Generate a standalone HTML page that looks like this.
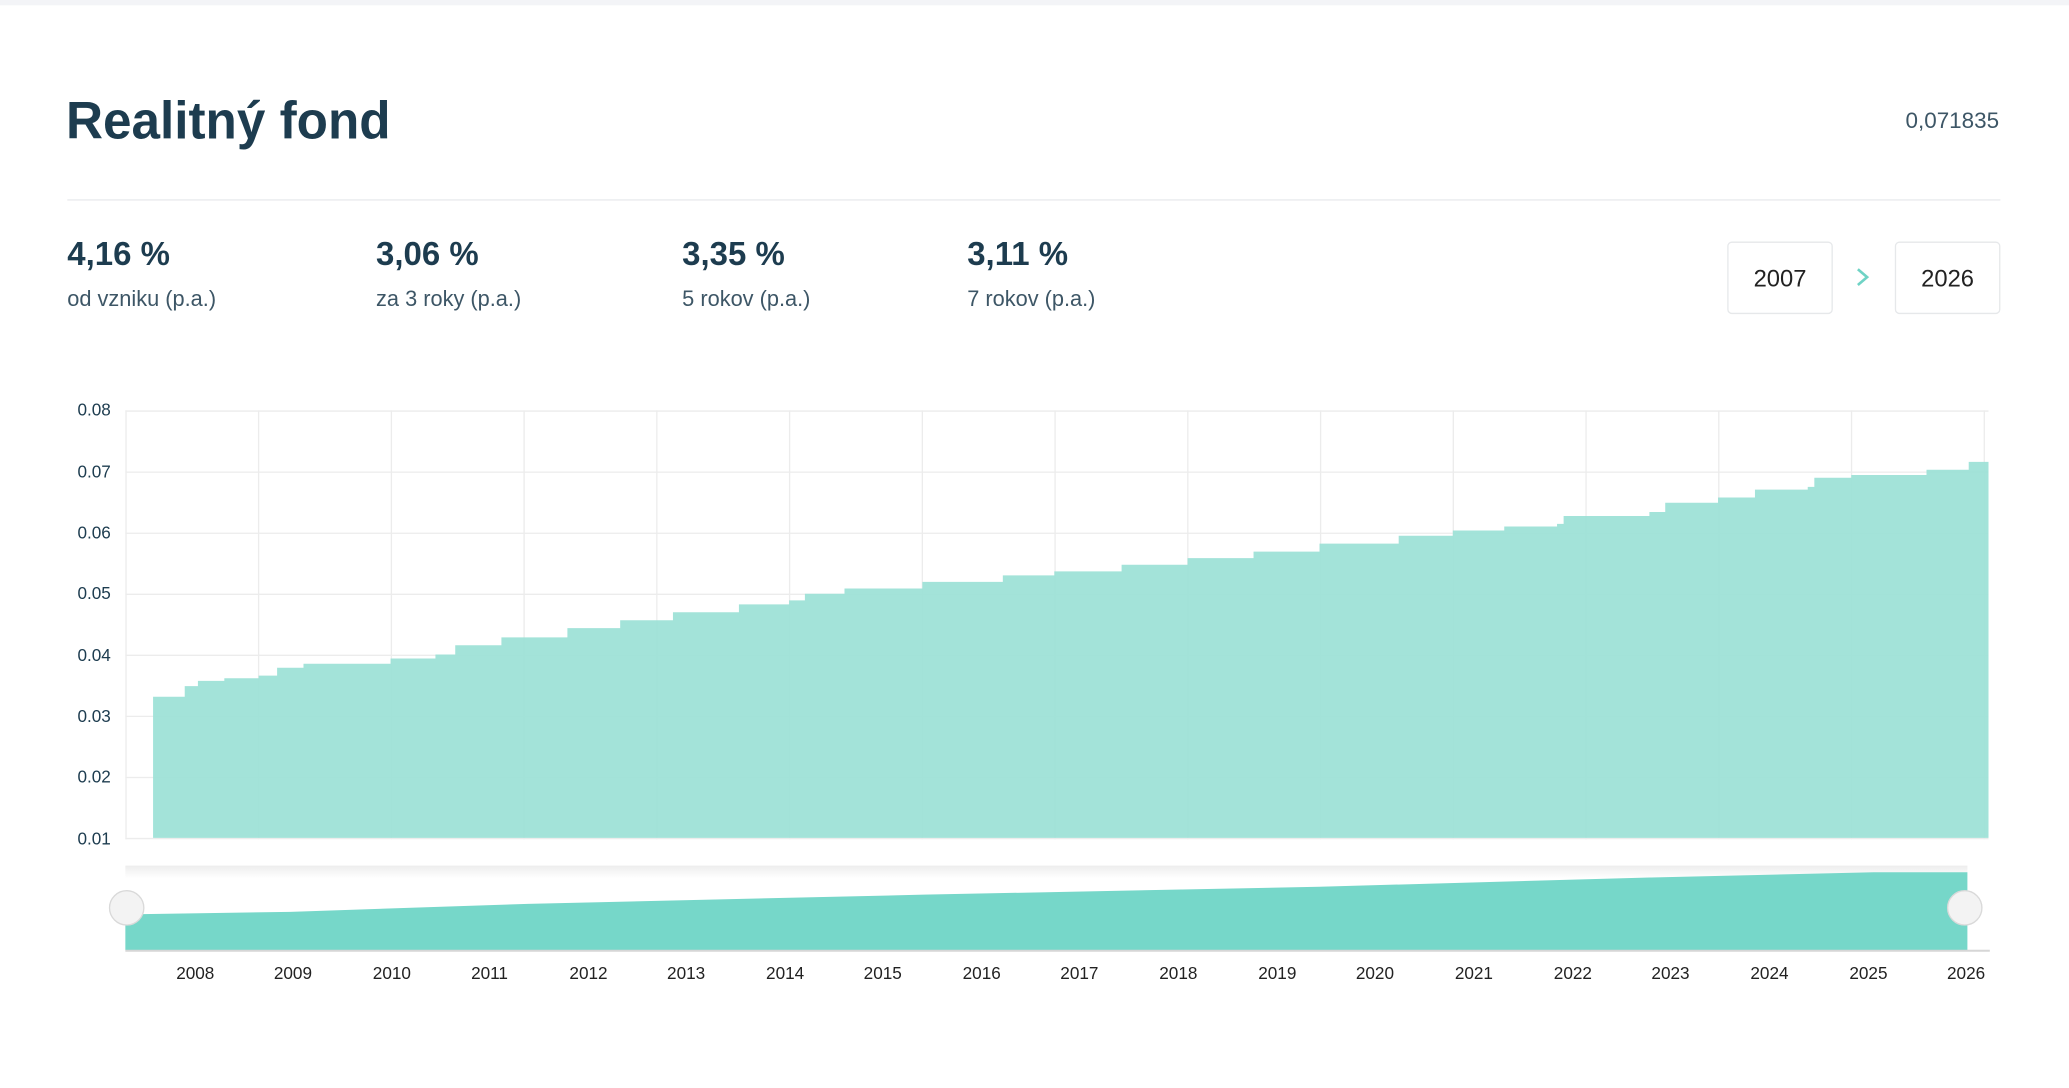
<!DOCTYPE html>
<html><head><meta charset="utf-8"><style>
html,body{margin:0;padding:0;background:#fff;width:2069px;height:1088px;overflow:hidden}
svg{display:block}
text{font-family:"Liberation Sans","DejaVu Sans",sans-serif}
</style></head><body>
<svg width="2069" height="1088" viewBox="0 0 1568 824.5" xmlns="http://www.w3.org/2000/svg">
<rect x="0" y="0" width="1568" height="4" fill="#f3f4f7"/>
<text x="50" y="105" font-size="40" fill="#1d3c4f" font-weight="bold" textLength="246" lengthAdjust="spacingAndGlyphs">Realitný fond</text>
<text x="1515" y="97" font-size="17" fill="#3d5666" text-anchor="end">0,071835</text>
<rect x="51" y="151" width="1465" height="1" fill="#e8eaec"/>
<g fill="#1d3c4f">
<text x="51" y="201" font-size="25" font-weight="bold">4,16 %</text>
<text x="285" y="201" font-size="25" font-weight="bold">3,06 %</text>
<text x="517" y="201" font-size="25" font-weight="bold">3,35 %</text>
<text x="733" y="201" font-size="25" font-weight="bold">3,11 %</text>
</g>
<g fill="#3d5666" font-size="16.5">
<text x="51" y="232">od vzniku (p.a.)</text>
<text x="285" y="232">za 3 roky (p.a.)</text>
<text x="517" y="232">5 rokov (p.a.)</text>
<text x="733" y="232">7 rokov (p.a.)</text>
</g>
<rect x="1309.5" y="183.5" width="79" height="54" rx="3" fill="#fff" stroke="#e6e8ea"/>
<rect x="1436.5" y="183.5" width="79" height="54" rx="3" fill="#fff" stroke="#e6e8ea"/>
<text x="1349" y="217" font-size="18" fill="#222" text-anchor="middle">2007</text>
<text x="1476" y="217" font-size="18" fill="#222" text-anchor="middle">2026</text>
<path d="M1408 204 L1415 210 L1408 216" fill="none" stroke="#6fd3c5" stroke-width="2"/>
<!-- grid -->
<g stroke="#ececec" stroke-width="1">
<line x1="95" y1="311.5" x2="1507" y2="311.5"/>
<line x1="95" y1="357.8" x2="1507" y2="357.8"/>
<line x1="95" y1="404.1" x2="1507" y2="404.1"/>
<line x1="95" y1="450.4" x2="1507" y2="450.4"/>
<line x1="95" y1="496.6" x2="1507" y2="496.6"/>
<line x1="95" y1="542.9" x2="1507" y2="542.9"/>
<line x1="95" y1="589.2" x2="1507" y2="589.2"/>
<line x1="95" y1="635.5" x2="1507" y2="635.5"/>
<line x1="95.5" y1="311" x2="95.5" y2="636"/>
<line x1="196" y1="311" x2="196" y2="636"/>
<line x1="296.6" y1="311" x2="296.6" y2="636"/>
<line x1="397.2" y1="311" x2="397.2" y2="636"/>
<line x1="497.8" y1="311" x2="497.8" y2="636"/>
<line x1="598.4" y1="311" x2="598.4" y2="636"/>
<line x1="699" y1="311" x2="699" y2="636"/>
<line x1="799.6" y1="311" x2="799.6" y2="636"/>
<line x1="900.2" y1="311" x2="900.2" y2="636"/>
<line x1="1000.8" y1="311" x2="1000.8" y2="636"/>
<line x1="1101.4" y1="311" x2="1101.4" y2="636"/>
<line x1="1202" y1="311" x2="1202" y2="636"/>
<line x1="1302.6" y1="311" x2="1302.6" y2="636"/>
<line x1="1403.2" y1="311" x2="1403.2" y2="636"/>
<line x1="1503.8" y1="311" x2="1503.8" y2="636"/>
</g>
<path fill="#9ee2d7" fill-opacity="0.95" d="M116 528 H140 V520 H150 V516 H170 V514 H196 V512 H210 V506 H230 V503 H296 V499 H330 V496 H345 V489 H380 V483 H430 V476 H470 V470 H510 V464 H560 V458 H598 V455 H610 V450 H640 V446 H699 V441 H760 V436 H799 V433 H850 V428 H900 V423 H950 V418 H1000 V412 H1060 V406 H1101 V402 H1140 V399 H1180 V397 H1185 V391 H1250 V388 H1262 V381 H1302 V377 H1330 V371 H1370 V369 H1375 V362 H1403 V360 H1460 V356 H1492 V350 H1507 V635 H116 Z"/>
<g fill="#1d3c4f" font-size="13" text-anchor="end">
<text x="84" y="315">0.08</text>
<text x="84" y="362">0.07</text>
<text x="84" y="408">0.06</text>
<text x="84" y="454">0.05</text>
<text x="84" y="501">0.04</text>
<text x="84" y="547">0.03</text>
<text x="84" y="593">0.02</text>
<text x="84" y="640">0.01</text>
</g>
<!-- navigator -->
<defs><linearGradient id="ng" x1="0" y1="0" x2="0" y2="1"><stop offset="0" stop-color="#ededed"/><stop offset="0.15" stop-color="#fff"/></linearGradient></defs>
<rect x="95" y="656" width="1396" height="64" fill="url(#ng)"/>
<path fill="#76d7c9" d="M95 693 L220 691 L400 685 L700 678 L1000 672 L1250 665 L1420 661 L1491 661 V720 H95 Z"/>
<line x1="95" y1="720.5" x2="1508" y2="720.5" stroke="#d6d6d6" stroke-width="1.5"/>
<circle cx="96" cy="688" r="13" fill="#f3f3f3" stroke="#d9d9d9"/>
<circle cx="1489" cy="688" r="13" fill="#f3f3f3" stroke="#d9d9d9"/>
<g fill="#222" font-size="13" text-anchor="middle">
<text x="148" y="742">2008</text><text x="222" y="742">2009</text><text x="297" y="742">2010</text>
<text x="371" y="742">2011</text><text x="446" y="742">2012</text><text x="520" y="742">2013</text>
<text x="595" y="742">2014</text><text x="669" y="742">2015</text><text x="744" y="742">2016</text>
<text x="818" y="742">2017</text><text x="893" y="742">2018</text><text x="968" y="742">2019</text>
<text x="1042" y="742">2020</text><text x="1117" y="742">2021</text><text x="1192" y="742">2022</text>
<text x="1266" y="742">2023</text><text x="1341" y="742">2024</text><text x="1416" y="742">2025</text>
<text x="1490" y="742">2026</text>
</g>
</svg>
</body></html>
